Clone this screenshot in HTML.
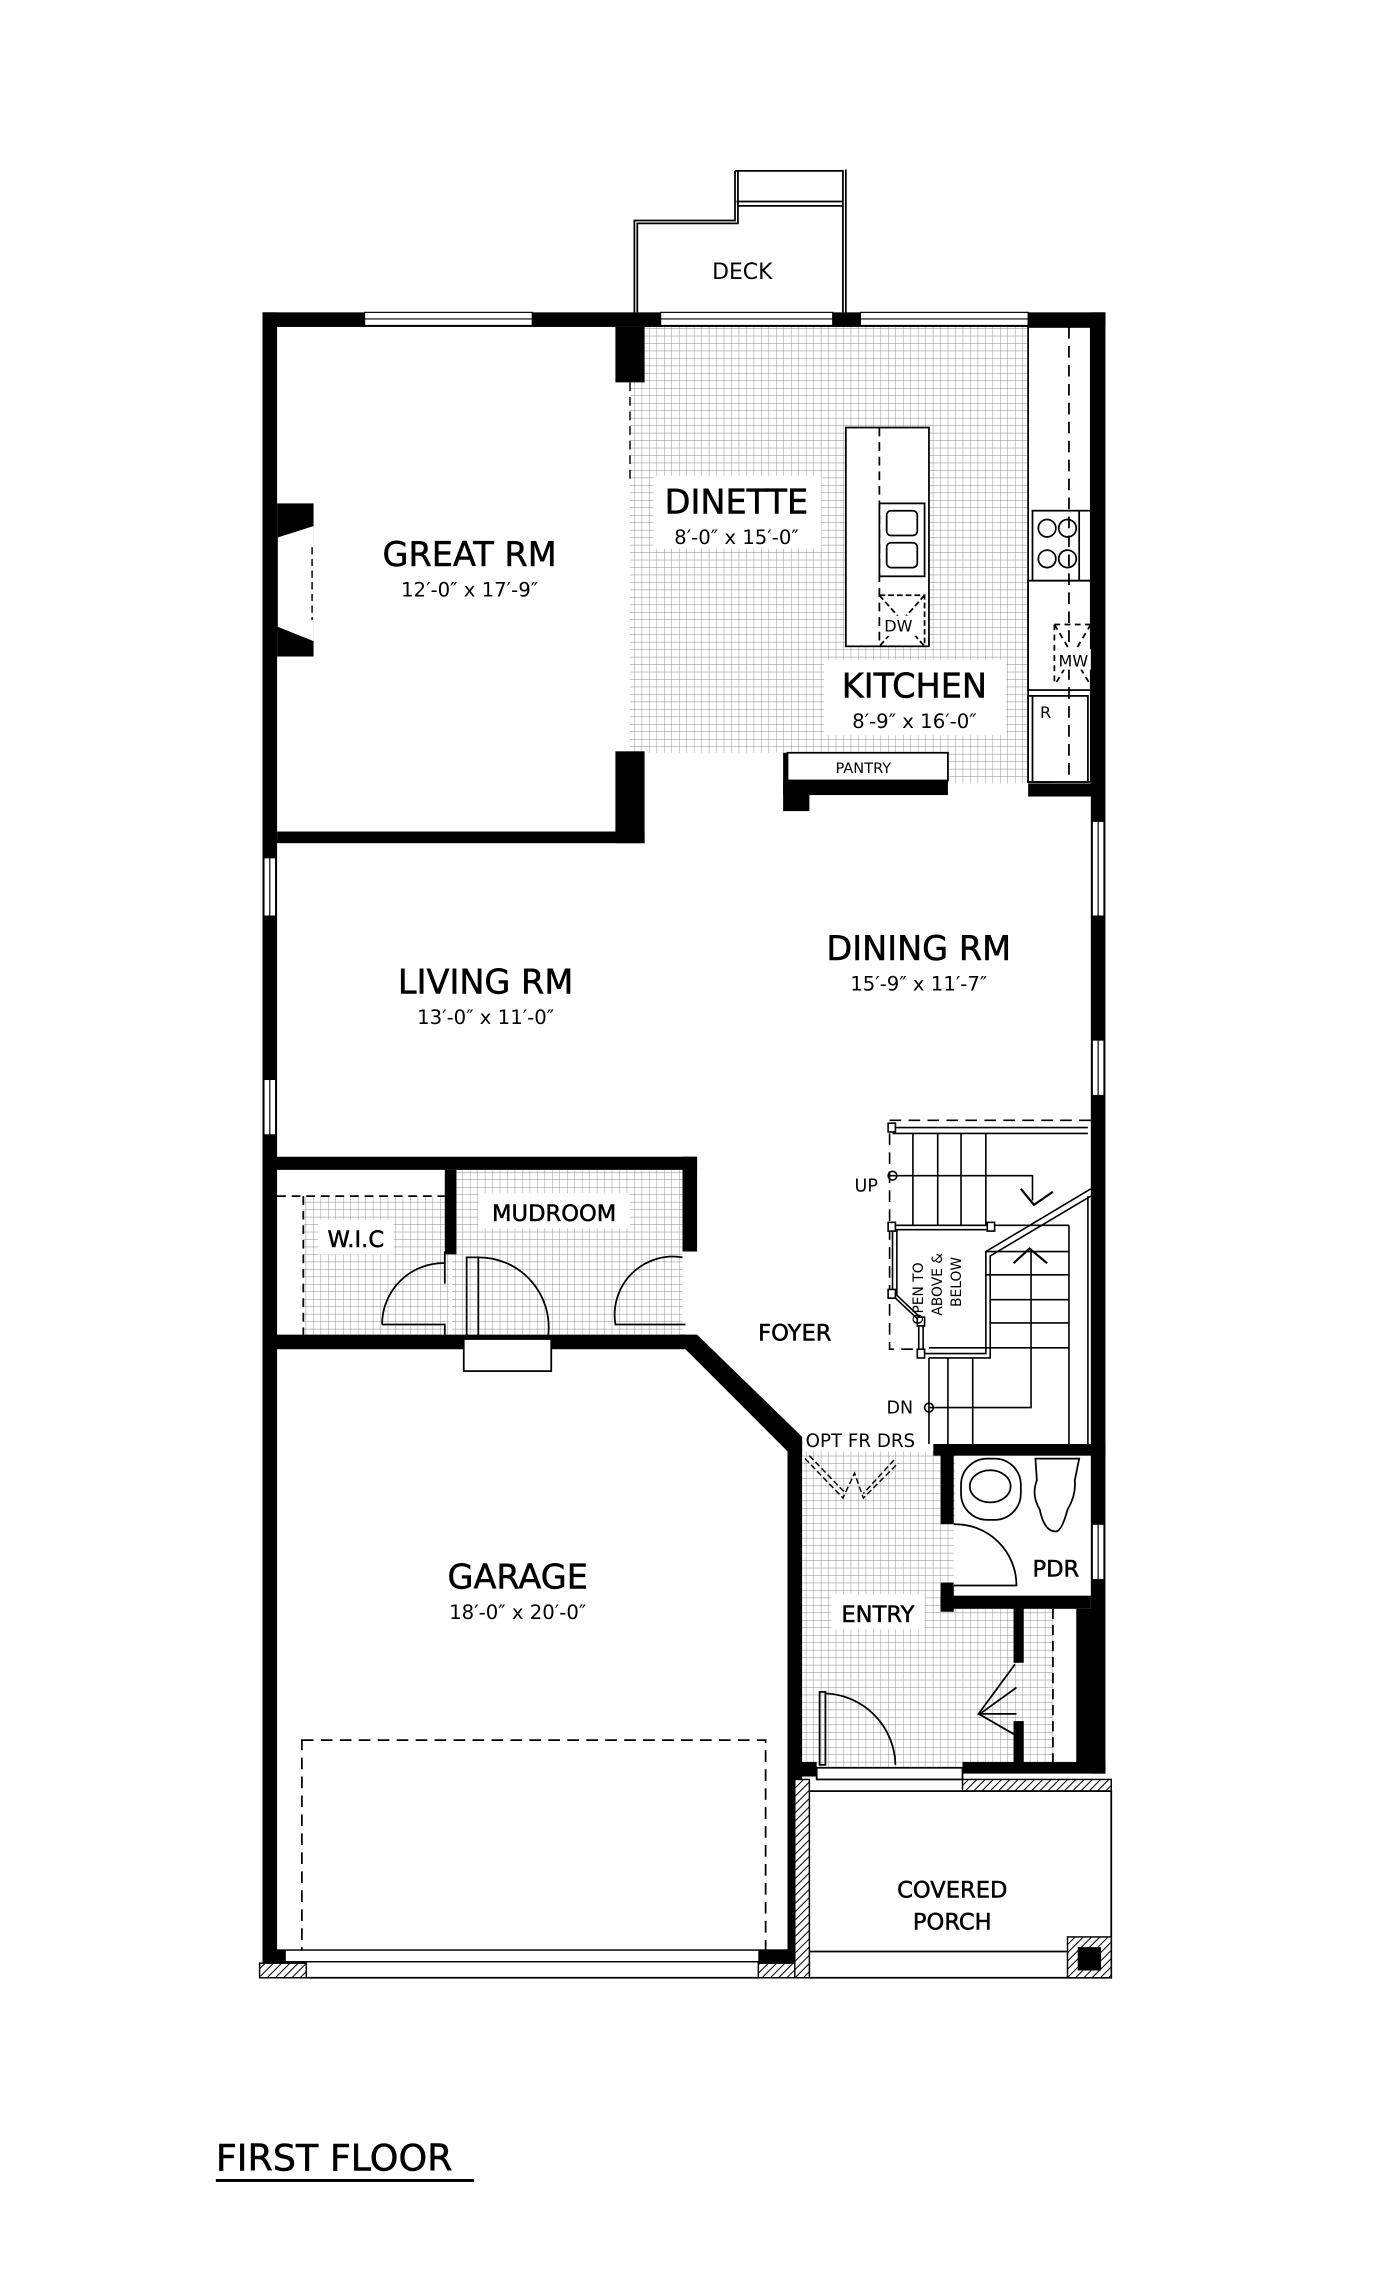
<!DOCTYPE html>
<html><head><meta charset="utf-8"><style>
html,body{margin:0;padding:0;background:#fff;}
svg{display:block;}
text{font-family:"DejaVu Sans","Liberation Sans",sans-serif;fill:#000;}
.b{stroke:#000;stroke-width:0.35;}
</style></head><body>
<svg width="1400" height="2277" viewBox="0 0 960 1561" xmlns="http://www.w3.org/2000/svg">
<defs>
<pattern id="g" width="5.12" height="5.12" patternUnits="userSpaceOnUse">
<path d="M5.12 0V5.12M0 5.12H5.12" stroke="#888" stroke-width="0.6" fill="none"/>
</pattern>
<pattern id="h" width="4" height="4" patternUnits="userSpaceOnUse" patternTransform="rotate(45)">
<rect width="4" height="4" fill="#fff"/><path d="M0 0V4" stroke="#000" stroke-width="1.4"/>
</pattern>
</defs>
<rect width="960" height="1561" fill="#fff"/>

<rect x="432" y="224" width="276" height="292" fill="url(#g)"/>
<rect x="555" y="516" width="150" height="21" fill="url(#g)"/>
<rect x="208" y="820" width="100" height="96" fill="url(#g)"/>
<rect x="310" y="802" width="158" height="114" fill="url(#g)"/>
<rect x="550" y="995" width="198" height="220" fill="url(#g)"/>
<rect x="655" y="995" width="95" height="100" fill="#fff"/>
<rect x="722" y="1100" width="28" height="115" fill="#fff"/>

<g fill="none" stroke="#000" stroke-width="1.2">
<path d="M435 214V151H504V117M437 214V153H506V117"/>
<path d="M504 117H578V214M580 116V214M505 138H578M506 141H578"/>
</g>
<text x="509" y="191" font-size="15">
<tspan text-anchor="middle">DECK</tspan></text>

<g fill="#000">
<rect x="180" y="214" width="10" height="1133"/>
<rect x="180" y="214" width="578" height="10"/>
<rect x="748" y="214" width="10" height="1002"/>
<rect x="422" y="224" width="20" height="38"/>
<rect x="422" y="515" width="20" height="63"/>
<rect x="190" y="570" width="252" height="8"/>
<rect x="190" y="345" width="25" height="105"/>
<rect x="537" y="516" width="18" height="40"/>
<rect x="537" y="535" width="113" height="10"/>
<rect x="705" y="537" width="50" height="9"/>
<rect x="180" y="793" width="298" height="9"/>
<rect x="468" y="793" width="10" height="65"/>
<rect x="305" y="802" width="8" height="58"/>
<rect x="180" y="915" width="290" height="10"/>
<polygon points="466,915 478,915 550,985 550,995 540,995 470,925"/>
<rect x="540" y="985" width="10" height="352"/>
<rect x="640" y="990" width="118" height="8"/>
<rect x="645" y="995" width="9" height="50"/>
<rect x="645" y="1085" width="9" height="20"/>
<rect x="645" y="1094" width="103" height="9"/>
<rect x="695" y="1100" width="7" height="40"/>
<rect x="695" y="1180" width="7" height="35"/>
<rect x="738" y="1103" width="12" height="112"/>
<rect x="545" y="1208" width="15" height="10"/>
<rect x="660" y="1208" width="98" height="8"/>
</g>

<g fill="#fff" stroke="#000" stroke-width="0.8">
<rect x="250" y="214" width="115" height="9"/>
<rect x="453" y="214" width="118" height="9"/>
<rect x="590" y="214" width="115" height="9"/>
<rect x="181" y="588" width="8" height="40"/>
<rect x="181" y="740" width="8" height="38"/>
<rect x="749" y="563" width="8" height="65"/>
<rect x="749" y="713" width="8" height="38"/>
<rect x="749" y="1045" width="8" height="38"/>
</g>
<path d="M250 218.5H365M453 218.5H571M590 218.5H705M185 588V628M185 740V778M753 563V628M753 713V751M753 1045V1083" stroke="#000" stroke-width="0.8"/>

<path d="M215 360L190 368V430L215 440" fill="#fff" stroke="#000"/>
<path d="M214 375V425" stroke="#000" stroke-dasharray="5 3"/>
<path d="M432 262V330" stroke="#000" stroke-dasharray="6 4"/>

<g fill="#fff" stroke="#000" stroke-width="1.2">
<rect x="580" y="293" width="57" height="150"/>
<rect x="603" y="345" width="31" height="50"/>
<rect x="608" y="350" width="21" height="17" rx="3"/>
<rect x="608" y="372" width="21" height="17" rx="3"/>
<rect x="705" y="224" width="43" height="312"/>
<rect x="708" y="350" width="40" height="48"/>
<rect x="705" y="477" width="17" height="59"/>
<rect x="708" y="477" width="38" height="59"/>
<rect x="540" y="516" width="110" height="19"/>
</g>
<g fill="none" stroke="#000" stroke-width="1.2">
<path d="M603 293V443" stroke-dasharray="6 4"/>
<path d="M733 224V536" stroke-dasharray="8 5"/>
<path d="M603 408H634V443M603 408L634 443M634 408L603 443" stroke-dasharray="4 2"/>
<path d="M723 428V470M723 428H748M723 428L748 470M748 428L723 470" stroke-dasharray="4 3"/>
<circle cx="718" cy="362" r="6"/><circle cx="732" cy="362" r="6"/>
<circle cx="718" cy="383" r="6"/><circle cx="732" cy="383" r="6"/>
<path d="M740 350V398"/>
<rect x="705" y="398" width="43" height="75"/>
</g>
<rect x="606" y="422" width="22" height="14" fill="#fff"/>
<text x="616" y="433" font-size="11" text-anchor="middle">DW</text>
<rect x="725" y="445" width="23" height="14" fill="#fff"/>
<text x="736" y="457" font-size="11" text-anchor="middle">MW</text>
<text x="717" y="492" font-size="11" text-anchor="middle">R</text>
<text x="592" y="530" font-size="10" text-anchor="middle">PANTRY</text>

<g text-anchor="middle">
<rect x="448" y="326" width="115" height="50" fill="#fff"/>
<text class="b" x="505" y="352" font-size="23">DINETTE</text>
<text x="505" y="373" font-size="13.5">8′-0″ x 15′-0″</text>
<rect x="565" y="452" width="125" height="52" fill="#fff"/>
<text class="b" x="627" y="478" font-size="23">KITCHEN</text>
<text x="627" y="499" font-size="13.5">8′-9″ x 16′-0″</text>
<text class="b" x="322" y="388" font-size="23">GREAT RM</text>
<text x="322" y="409" font-size="13.5">12′-0″ x 17′-9″</text>
<text class="b" x="333" y="681" font-size="23">LIVING RM</text>
<text x="333" y="702" font-size="13.5">13′-0″ x 11′-0″</text>
<text class="b" x="630" y="658" font-size="23">DINING RM</text>
<text x="630" y="679" font-size="13.5">15′-9″ x 11′-7″</text>
<text class="b" x="355" y="1089" font-size="23">GARAGE</text>
<text x="355" y="1110" font-size="13.5">18′-0″ x 20′-0″</text>
<rect x="328" y="818" width="104" height="24" fill="#fff"/>
<text class="b" x="380" y="837" font-size="15.5">MUDROOM</text>
<rect x="218" y="836" width="52" height="24" fill="#fff"/>
<text class="b" x="244" y="855" font-size="15.5">W.I.C</text>
<text class="b" x="545" y="919" font-size="15.5">FOYER</text>
<text x="590" y="992" font-size="12.5">OPT FR DRS</text>
<rect x="570" y="1093" width="64" height="24" fill="#fff"/>
<text class="b" x="602" y="1112" font-size="15.5">ENTRY</text>
<text class="b" x="724" y="1081" font-size="15.5">PDR</text>
<text class="b" x="653" y="1301" font-size="15.5">COVERED</text>
<text class="b" x="653" y="1323" font-size="15.5">PORCH</text>
<text x="594" y="817" font-size="12">UP</text>
<text x="617" y="969" font-size="12">DN</text>
</g>

<g fill="none" stroke="#000" stroke-width="1.2">
<path d="M190 820H305M208 820V915" stroke-dasharray="6 4"/>
<path d="M305 858V880M262 908A42 42 0 0 1 305 866" />
<path d="M262 908H305V915"/>
<rect x="320" y="862" width="8" height="54"/>
<path d="M328 862A48 48 0 0 1 376 915"/>
<rect x="318" y="918" width="60" height="22" fill="#fff"/>
<path d="M468 862A40 40 0 0 0 422 908H470"/>
</g>

<g fill="none" stroke="#000" stroke-width="1.1">
<path d="M610 768H748" stroke-dasharray="8 5"/>
<path d="M612 773H746M612 777H746" />
<path d="M626 777V840M643 777V840M659 777V840M676 777V840"/>
<path d="M610 806H708V823"/>
<path d="M700 815L709 826L722 817" stroke-width="1.5"/>
<path d="M612 840H680M612 843H680"/>
<path d="M612 843V888L630 905V928M615 843V888L633 905V928"/>
<path d="M610 777V925H630" stroke-dasharray="8 5"/>
<path d="M633 928H676V858L748 815M637 931H679V861L748 820"/>
<path d="M679 840H733M676 858H733M676 874H733M679 891H733M679 907H733M637 924H733M733 840V990M746 820V990"/>
<path d="M650 931V990M667 931V990M637 931V990"/>
<path d="M637 965H707V858"/>
<path d="M695 866L706 856L718 866" stroke-width="1.5"/>
<circle cx="612" cy="806" r="3"/>
<circle cx="637" cy="965" r="3"/>
<rect x="609" y="770" width="5" height="6" fill="#fff"/>
<rect x="609" y="838" width="5" height="6" fill="#fff"/>
<rect x="677" y="838" width="5" height="6" fill="#fff"/>
<rect x="609" y="884" width="5" height="6" fill="#fff"/>
<rect x="629" y="903" width="5" height="6" fill="#fff"/>
<rect x="629" y="925" width="5" height="6" fill="#fff"/>
</g>
<text transform="translate(633,908) rotate(-90)" font-size="9.5">OPEN TO</text>
<text transform="translate(646,902) rotate(-90)" font-size="9.5">ABOVE &amp;</text>
<text transform="translate(659,896) rotate(-90)" font-size="9.5">BELOW</text>

<g fill="none" stroke="#000" stroke-width="1" stroke-dasharray="4 2">
<path d="M552 1000L578 1027L586 1010L592 1027L616 1003"/>
<path d="M555 998L580 1024M613 1001L592 1024"/>
</g>

<g fill="#fff" stroke="#000" stroke-width="1.2">
<rect x="659" y="1000" width="41" height="42" rx="18"/>
<ellipse cx="679" cy="1019" rx="14" ry="11"/>
<path d="M710 1000H740L737 1015Q738 1025 732 1035Q728 1050 724 1050Q716 1050 713 1035Q707 1025 711 1015Z"/>
<path d="M654 1045A42 42 0 0 1 697 1087H654"/>
</g>

<g fill="none" stroke="#000" stroke-width="1.2">
<path d="M722 1103V1215" stroke-dasharray="7 4"/>
<path d="M696 1141L671 1175L697 1190"/>
<path d="M697 1157L672 1175L697 1175"/>
<rect x="562" y="1160" width="4" height="50"/>
<path d="M566 1161A50 50 0 0 1 614 1210"/>
<rect x="560" y="1212" width="100" height="8" fill="#fff"/>
</g>

<rect x="207" y="1193" width="318" height="147" fill="none" stroke="#000" stroke-width="1.2" stroke-dasharray="8 5"/>
<rect x="190" y="1337" width="350" height="8" fill="#fff" stroke="#000" stroke-width="1"/>
<rect x="180" y="1337" width="16" height="9" fill="#000"/>
<rect x="520" y="1337" width="25" height="9" fill="#000"/>
<rect x="178" y="1346" width="32" height="10" fill="url(#h)" stroke="#000" stroke-width="1"/>
<rect x="520" y="1346" width="35" height="10" fill="url(#h)" stroke="#000" stroke-width="1"/>
<path d="M210 1356H520" stroke="#000" stroke-width="1.2"/>

<rect x="545" y="1220" width="10" height="136" fill="url(#h)" stroke="#000" stroke-width="1"/>
<rect x="660" y="1220" width="102" height="8" fill="url(#h)" stroke="#000" stroke-width="1"/>
<path d="M555 1228H762V1356H555M555 1338H732" fill="none" stroke="#000" stroke-width="1.2"/>
<rect x="732" y="1328" width="30" height="28" fill="url(#h)" stroke="#000" stroke-width="1"/>
<rect x="739" y="1335" width="16" height="16" fill="#000"/>

<text class="b" x="148" y="1488" font-size="25">FIRST FLOOR</text>
<rect x="148" y="1494" width="177" height="2" fill="#000"/>
</svg>
</body></html>
